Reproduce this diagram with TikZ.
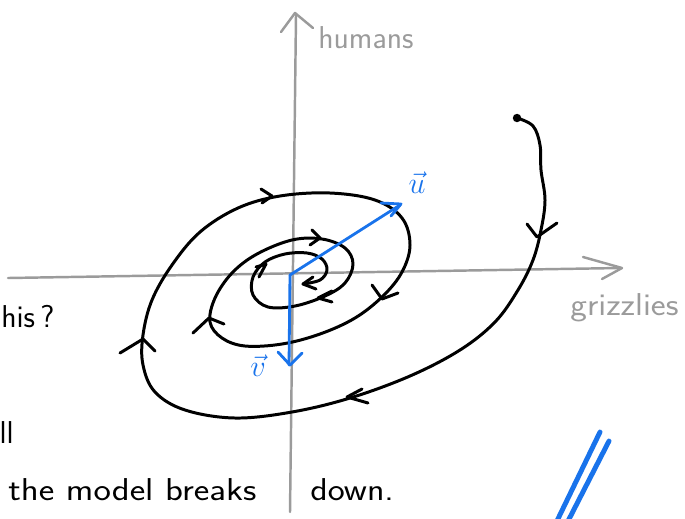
\documentclass[tikz,border=0pt]{standalone}
\usepackage{amsmath,amssymb}
\usepackage{xcolor}
\definecolor{inkblue}{RGB}{25,115,235}
\definecolor{axisgray}{RGB}{155,155,155}

\begin{document}
\begin{tikzpicture}[x=0.02cm,y=-0.02cm,
  ink/.style={line width=1.7pt,line cap=round,line join=round},
  axis/.style={axisgray,line width=1.4pt,line cap=round,line join=round},
  vec/.style={inkblue,line width=1.6pt,line cap=round,line join=round},
  words/.style={inner sep=0pt,font=\sffamily\fontsize{18}{20}\selectfont}]
\useasboundingbox (0,0) rectangle (685,518);
% axes
\draw[axis] (8,278)--(620,268);
\draw[axis] (583,257)--(622,268)--(602,279);
\draw[axis] (290,512)--(296,15);
\draw[axis] (281,32)--(295,13)--(313,28);
\node[words,axisgray,anchor=base west] at (318,48) {humans};
\node[words,axisgray,anchor=base west,xscale=1.12] at (570,315) {grizzlies};
% the trajectory
\fill (517,118) circle (2.4pt);
\draw[ink] plot[smooth,tension=0.6] coordinates {(517,118) (533,126) (540,145) (541,170) (545,200) (541,230) (533,260) (518,290) (495,322) (460,350) (410,376) (350,398) (292,412) (235,418) (185,410) (155,392) (143,365) (143,335) (152,300) (172,265) (200,232) (238,208) (280,196) (330,193) (375,200) (402,218) (410,245) (402,272) (383,296) (355,318) (320,334) (282,344) (245,346) (222,338) (210,322) (215,298) (232,273) (257,254) (292,240) (322,239) (345,248) (353,264) (345,283) (325,296) (295,306) (268,307) (253,295) (253,277) (265,262) (285,254) (307,253) (322,259) (327,270) (320,280) (303,284)};
\draw[ink] (527,224)--(537,237)--(557,223);
\draw[ink] (362,389)--(347,397)--(368,403);
\draw[ink] (120,353)--(143,339)--(155,351);
\draw[ink] (261,189)--(272,196)--(262,203);
\draw[ink] (372,285)--(382,299)--(398,293);
\draw[ink] (193,333)--(209,318)--(224,324);
\draw[ink] (312,230)--(320,238)--(310,245);
\draw[ink] (332,291)--(318,298)--(332,302);
\draw[ink] (256,267)--(266,264)--(259,277);
\draw[ink] (313,277)--(303,284)--(316,289);
% eigenvectors
\coordinate (O) at (290,275);
\draw[vec] (O)--(400,205);
\draw[vec] (381,203)--(401,204)--(391,216);
\draw[vec] (O)--(289,365);
\draw[vec] (278,352)--(290,365)--(302,353);
\node[inkblue,inner sep=0pt,font=\fontsize{16}{18}\selectfont] at (417,183) {$\vec{u}$};
\node[inkblue,inner sep=0pt,font=\fontsize{16}{18}\selectfont] at (258,366) {$\vec{v}$};
% notes
\node[words,anchor=base west] at (1,327) {his\,?};
\node[words,anchor=base east] at (14,443) {ll};
\node[words,anchor=base west,xscale=1.17] at (8,500) {the model breaks};
\node[words,anchor=base west,xscale=1.14] at (310,500) {down.};
\draw[inkblue,line width=2.8pt,line cap=round] (600,432)--(555,525);
\draw[inkblue,line width=2.8pt,line cap=round] (609,441)--(566,525);
\end{tikzpicture}
\end{document}
